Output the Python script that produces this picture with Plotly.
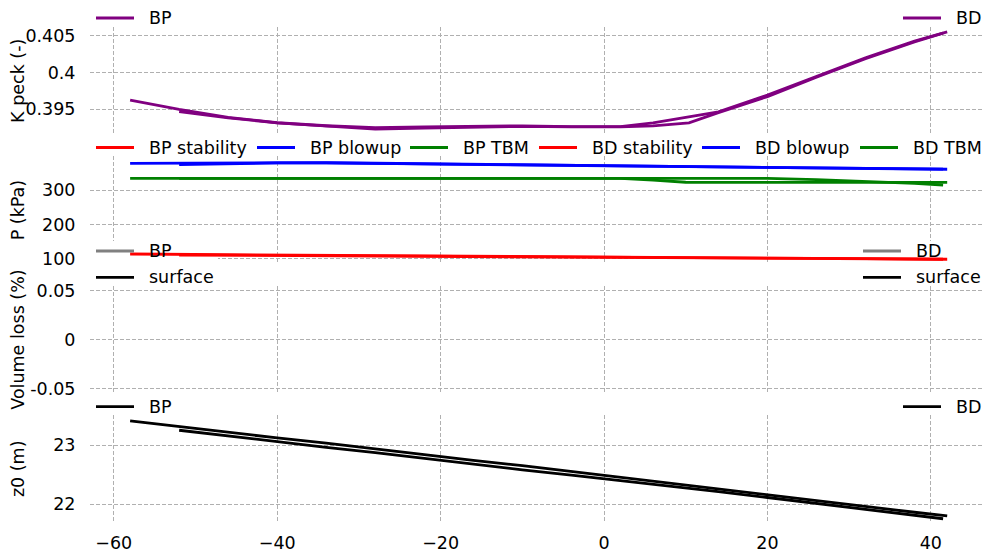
import plotly.graph_objects as go
from plotly.subplots import make_subplots

# stations (m) of the two bores
bp_x = [-58, -52, -46, -40, -34, -28, -22, -16, -10, -4, 2, 6, 10, 14, 20, 26, 32, 38, 42]
bd_x = [-52, -46, -40, -34, -28, -22, -16, -10, -4, 2, 6, 10.4, 14, 20, 26, 32, 38, 41.5]

# K peck (-)
k_bp = [0.39623, 0.39496, 0.39386, 0.39312, 0.39271, 0.39244, 0.39255, 0.39262, 0.39270, 0.39258,
        0.39260, 0.39310, 0.39380, 0.39460, 0.39690, 0.39950, 0.40200, 0.40430, 0.40555]
k_bd = [0.39463, 0.39380, 0.39310, 0.39268, 0.39225, 0.39240, 0.39255, 0.39262, 0.39255, 0.39255,
        0.39270, 0.39310, 0.39450, 0.39670, 0.39935, 0.40190, 0.40420, 0.40540]

# face pressures (kPa)
stab_bp = [114.5, 113.5, 112.8, 112.0, 111.0, 110.0, 109.0, 108.0, 107.0, 106.0,
           105.0, 104.6, 104.2, 103.8, 103.0, 102.0, 101.0, 100.0, 99.3]
stab_bd = [111.6, 111.0, 110.5, 109.8, 109.0, 108.4, 107.6, 106.8, 105.9, 105.0,
           104.5, 104.0, 103.5, 102.7, 101.8, 100.8, 99.8, 99.2]
blow_bp = [377.4, 378.0, 378.8, 379.5, 379.0, 377.5, 376.0, 374.5, 372.5, 370.5,
           369.3, 368.5, 367.8, 367.0, 365.7, 364.3, 362.8, 361.5, 360.2]
blow_bd = [373.4, 376.0, 378.5, 378.5, 377.0, 375.6, 374.0, 372.0, 370.3, 369.0,
           368.3, 367.5, 366.8, 365.5, 364.0, 362.5, 361.2, 360.4]
tbm_bp = [333.9, 333.9, 333.9, 333.9, 333.9, 333.9, 333.9, 333.9, 333.9, 333.9,
          333.9, 328.5, 322.5, 322.3, 322.3, 322.3, 322.3, 322.3, 322.3]
tbm_bd = [333.9, 333.9, 333.9, 333.9, 333.9, 333.9, 333.9, 333.9, 333.9, 333.9,
          333.9, 333.9, 333.9, 333.5, 330.0, 325.0, 319.0, 314.5]

# volume loss (%) - nothing falls inside the plotted range
vl_x = []
vl_bp = []
vl_bd = []
vl_surface = []

# tunnel axis depth z0 (m)
z0_bp = [23.41, 23.31, 23.22, 23.12, 23.03, 22.93, 22.84, 22.74, 22.65, 22.55,
         22.46, 22.39, 22.32, 22.25, 22.15, 22.05, 21.96, 21.86, 21.80]
z0_bd = [23.25, 23.15, 23.06, 22.96, 22.87, 22.77, 22.68, 22.58, 22.49, 22.40,
         22.34, 22.27, 22.21, 22.11, 22.01, 21.91, 21.81, 21.75]

x_ticks = [-60, -40, -20, 0, 20, 40]
k_ticks = [0.395, 0.4, 0.405]
k_ticktext = ['0.395', '0.4', '0.405']
p_ticks = [100, 200, 300]
p_ticktext = ['100', '200', '300']
vl_ticks = [-0.05, 0, 0.05]
vl_ticktext = ['-0.05', '0', '0.05']
z_ticks = [22, 23]
z_ticktext = ['22', '23']

PURPLE = '#800080'
RED = '#ff0000'
BLUE = '#0000ff'
GREEN = '#008000'
GREY = '#808080'
BLACK = '#000000'
FONT = dict(family='DejaVu Sans', size=17.5, color='black')
LW = 2.8

X_RANGE = [-62.91, 46.26]
P_RANGE = [84.9, 397.4]

fig = make_subplots(rows=4, cols=1, shared_xaxes=True, vertical_spacing=0.04355)


def add_line(x, y, color, row):
    fig.add_trace(go.Scatter(x=x, y=y, mode='lines', line=dict(color=color, width=LW),
                             showlegend=False, hoverinfo='skip'), row=row, col=1)


add_line(bp_x, k_bp, PURPLE, 1)
add_line(bd_x, k_bd, PURPLE, 1)
add_line(bp_x, tbm_bp, GREEN, 2)
add_line(bd_x, tbm_bd, GREEN, 2)
add_line(bp_x, blow_bp, BLUE, 2)
add_line(bd_x, blow_bd, BLUE, 2)
add_line(bp_x, stab_bp, RED, 2)
add_line(bd_x, stab_bd, RED, 2)
add_line(vl_x, vl_bp, GREY, 3)
add_line(vl_x, vl_bd, GREY, 3)
add_line(vl_x, vl_surface, BLACK, 3)
add_line(bp_x, z0_bp, BLACK, 4)
add_line(bd_x, z0_bd, BLACK, 4)

# pixel -> paper helpers for the hand placed legends and labels
L, W, T, H = 90, 892, 27, 496


def px(x):
    return (x - L) / W


def py(y):
    return (T + H - y) / H


def legend_item(x0, y, color, label):
    fig.add_shape(type='line', xref='paper', yref='paper', x0=px(x0), x1=px(x0 + 38),
                  y0=py(y), y1=py(y), line=dict(color=color, width=LW))
    fig.add_annotation(xref='paper', yref='paper', x=px(x0 + 51), y=py(y), text=label,
                       showarrow=False, xanchor='left', yanchor='middle', font=FONT)


# the volume-loss legends hang over the bottom of the pressure panel:
# blank the grid there (shape sits between grid and traces)
for xa, xb in [(X_RANGE[0], -47.25), (30.8, X_RANGE[1])]:
    fig.add_shape(type='rect', xref='x2', yref='y2', layer='between',
                  x0=xa, x1=xb, y0=P_RANGE[0], y1=152,
                  fillcolor='white', line=dict(width=0))

legend_item(96, 18, PURPLE, 'BP')
legend_item(903, 18, PURPLE, 'BD')

legend_item(96, 147.5, RED, 'BP stability')
legend_item(257, 147.5, BLUE, 'BP blowup')
legend_item(410, 147.5, GREEN, 'BP TBM')
legend_item(539, 147.5, RED, 'BD stability')
legend_item(702, 147.5, BLUE, 'BD blowup')
legend_item(860, 147.5, GREEN, 'BD TBM')

legend_item(96, 251, GREY, 'BP')
legend_item(96, 277.3, BLACK, 'surface')
legend_item(863, 251, GREY, 'BD')
legend_item(863, 277.3, BLACK, 'surface')

legend_item(96, 406.7, BLACK, 'BP')
legend_item(903, 406.7, BLACK, 'BD')

# y axis titles, aligned in one column
for title, y0, y1 in [('K peck (-)', 27, 134.8), ('P (kPa)', 156.4, 264.2),
                      ('Volume loss (%)', 285.8, 393.6), ('z0 (m)', 415.2, 523)]:
    fig.add_annotation(xref='paper', yref='paper', x=px(18), y=py((y0 + y1) / 2), text=title,
                       textangle=-90, showarrow=False, xanchor='center', yanchor='middle', font=FONT)

grid = dict(showgrid=True, gridcolor='#b0b0b0', gridwidth=1, griddash='4px,2px',
            zeroline=False, showline=False, automargin=False)

for r in range(1, 5):
    fig.update_xaxes(range=X_RANGE, tickvals=x_ticks, ticks='outside', ticklen=4,
                     tickcolor='rgba(0,0,0,0)', tickfont=FONT, row=r, col=1, **grid)

yspecs = [
    (1, [0.39147, 0.40623], k_ticks, k_ticktext),
    (2, P_RANGE, p_ticks, p_ticktext),
    (3, [-0.0553, 0.0553], vl_ticks, vl_ticktext),
    (4, [21.678, 23.505], z_ticks, z_ticktext),
]
for r, rng, tv, tt in yspecs:
    fig.update_yaxes(range=rng, tickvals=tv, ticktext=tt, ticks='outside', ticklen=10,
                     tickcolor='rgba(0,0,0,0)', tickfont=FONT, row=r, col=1, **grid)

fig.update_layout(
    width=982, height=551,
    margin=dict(l=90, r=0, t=27, b=28),
    plot_bgcolor='white', paper_bgcolor='white',
    font=FONT,
    showlegend=False,
)

# page body has a default margin; drop it so the figure fills the window exactly
fig.write_html("out.html", config={'displayModeBar': False},
               post_script="document.body.style.margin='0';document.body.style.overflow='hidden';")
